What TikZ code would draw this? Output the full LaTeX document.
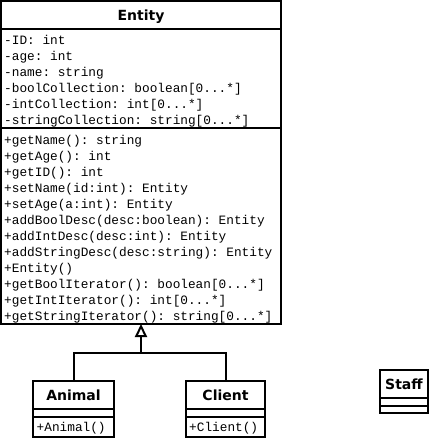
\documentclass[tikz,border=0pt]{standalone}
\usepackage{fontspec}
\usetikzlibrary{positioning, arrows.meta}
\newfontfamily\headfont{DejaVu Sans}
\newfontfamily\codefont{Liberation Mono}
\newcommand{\many}{[0...*]}
\frenchspacing

\tikzset{
  classname/.style={draw, line width=2pt, inner sep=0pt, outer sep=0pt,
    text height=19.7pt, text depth=8.3pt, minimum width=#1,
    font=\headfont\bfseries\fontsize{14}{16}\selectfont},
  part/.style 2 args={draw, line width=2pt, inner sep=0pt, outer sep=0pt,
    minimum width=#1, minimum height=#2},
  member/.style={inner sep=0pt, anchor=base west,
    font=\codefont\fontsize{12.77}{16}\selectfont\frenchspacing},
  extends/.style={line width=2pt, -{Triangle[open, length=13pt, width=12pt]}}
}

\begin{document}
\begin{tikzpicture}[x=1pt, y=-1pt]
\useasboundingbox (0,0) rectangle (431,439);

% Entity
\node[classname=280pt] (entity) at (141,15) {Entity};
\node[part={280pt}{99pt}, below=0pt of entity] (entity-attr) {};
\node[part={280pt}{196pt}, below=0pt of entity-attr] (entity-meth) {};
\foreach \m [count=\i] in {-ID: int, -age: int, -name: string,
    -boolCollection: boolean\many, -intCollection: int\many,
    -stringCollection: string\many}
  \node[member] (entity-a\i) at (4,28+16*\i) {\m};
\foreach \m [count=\i] in {+getName(): string, +getAge(): int, +getID(): int,
    +setName(id:int): Entity, +setAge(a:int): Entity,
    +addBoolDesc(desc:boolean): Entity, +addIntDesc(desc:int): Entity,
    +addStringDesc(desc:string): Entity, +Entity(),
    +getBoolIterator(): boolean\many, +getIntIterator(): int\many,
    +getStringIterator(): string\many}
  \node[member] (entity-m\i) at (4,128+16*\i) {\m};

% Animal
\node[classname=81pt] (animal) at (73.5,395) {Animal};
\node[part={81pt}{8pt}, below=0pt of animal] (animal-attr) {};
\node[part={81pt}{20pt}, below=0pt of animal-attr] (animal-meth) {};
\node[member] (animal-m1) at (36.5,431) {+Animal()};

% Client
\node[classname=79pt] (client) at (225.5,395) {Client};
\node[part={79pt}{8pt}, below=0pt of client] (client-attr) {};
\node[part={79pt}{20pt}, below=0pt of client-attr] (client-meth) {};
\node[member] (client-m1) at (189,431) {+Client()};

% Staff
\node[classname=48pt] (staff) at (404,384) {Staff};
\node[part={48pt}{8pt}, below=0pt of staff] (staff-attr) {};
\node[part={48pt}{7pt}, below=0pt of staff-attr] (staff-meth) {};

% inheritance
\coordinate (split) at (141,353);
\draw[line width=2pt] (animal.north) |- (split) -| (client.north);
\draw[extends] (split) -- (entity-meth.south);
\end{tikzpicture}
\end{document}
